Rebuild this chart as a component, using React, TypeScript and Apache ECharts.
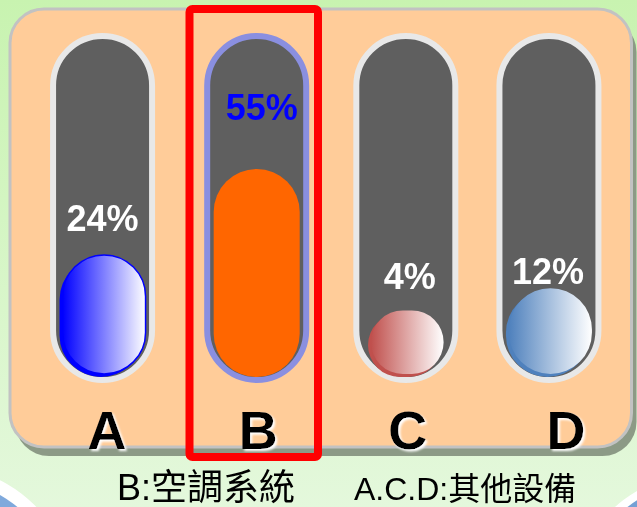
import React, { useEffect, useRef } from "react";
import * as echarts from "echarts";

// Equipment groups and their share of total consumption (%)
const CATEGORIES = ["A", "B", "C", "D"];
const SHARES = [24, 55, 4, 12];
const SHARE_LABELS = ["24%", "55%", "4%", "12%"];
const NOTE_LEFT = "B:空調系統";
const NOTE_RIGHT = "A.C.D:其他設備";

// Highlighted group (air conditioning)
const HIGHLIGHT = 1;

// Value axis range: the negative floor leaves room for the rounded base of each fill
const Y_MIN = -20;
const Y_MAX = 100;

const FONT = "'Liberation Sans', Arial, 'Noto Sans CJK TC', sans-serif";

// Small layout nudges per tube, label lift above each fill, label x shift
const NUDGE = [-2, 3, 3, -3];
const LABEL_LIFT = [36, 61, 34, 17];
const LABEL_DX = [0, 5, 4, -1];
const LETTER_PAD = [5, 9, 10, 28];

type FillStyle = { base: string; grad: boolean; stroke?: string; text: string };
const FILL_STYLES: FillStyle[] = [
  { base: "#0000ff", grad: true, stroke: "#0000ff", text: "#ffffff" },
  { base: "#ff6600", grad: false, text: "#0000ff" },
  { base: "#c0504d", grad: true, text: "#ffffff" },
  { base: "#4f81bd", grad: true, text: "#ffffff" },
];

const seriesData = SHARES.map((v, i) => [i, v]);

const tubeItem = (_params: any, api: any) => {
  const i = api.value(0);
  const top = api.coord([i, Y_MAX]);
  const bottom = api.coord([i, Y_MIN]);
  const cx = top[0] + NUDGE[i];
  const y = top[1] - 8;
  const h = bottom[1] + 3 - y;
  return {
    type: "rect",
    shape: { x: cx - 49.5, y, width: 99, height: h, r: 49.5 },
    style: {
      fill: "#5f5f5f",
      stroke: i === HIGHLIGHT ? "#8a8fe0" : "#e8e8e8",
      lineWidth: 6,
    },
  };
};

const fillItem = (_params: any, api: any) => {
  const i = api.value(0);
  const v = api.value(1);
  const top = api.coord([i, v]);
  const bottom = api.coord([i, Y_MIN]);
  const cx = top[0] + NUDGE[i];
  const h = bottom[1] - top[1];
  const w = Math.min(86, h + 9);
  const st = FILL_STYLES[i];
  const children: any[] = [];
  if (st.grad) {
    const iw = w - 3;
    const ih = h - 3;
    children.push({
      type: "rect",
      shape: { x: cx - w / 2, y: top[1] + 3, width: iw, height: ih, r: iw / 2 },
      style: { fill: st.base },
    });
    children.push({
      type: "rect",
      shape: { x: cx - w / 2 + 3, y: top[1], width: iw, height: ih, r: iw / 2 },
      style: {
        fill: new echarts.graphic.LinearGradient(0, 0, 1, 0, [
          { offset: 0, color: st.base },
          { offset: 1, color: "#ffffff" },
        ]),
        stroke: st.stroke || null,
        lineWidth: st.stroke ? 1.5 : 0,
      },
    });
  } else {
    children.push({
      type: "rect",
      shape: { x: cx - w / 2, y: top[1], width: w, height: h, r: w / 2 },
      style: { fill: st.base },
    });
  }
  children.push({
    type: "text",
    x: cx + LABEL_DX[i],
    y: top[1] - LABEL_LIFT[i],
    style: {
      text: SHARE_LABELS[i],
      fill: st.text,
      fontSize: 36,
      fontWeight: "bold",
      fontFamily: FONT,
      align: "center",
      verticalAlign: "middle",
    },
  });
  return { type: "group", children };
};

const letterRich: Record<string, any> = {};
CATEGORIES.forEach((_, i) => {
  letterRich["l" + i] = {
    fontSize: 54,
    fontWeight: "bold",
    fontFamily: FONT,
    color: "#000000",
    lineHeight: 56,
    padding: [0, 0, 0, LETTER_PAD[i]],
    textShadowColor: "#ffffff",
    textShadowOffsetX: 2,
    textShadowOffsetY: 2,
    textShadowBlur: 2,
  };
});

const panel = { x: 10, y: 9, width: 621.5, height: 438, r: 34 };

const option: any = {
  animation: false,
  grid: { left: 30, right: 10.5, top: 44, bottom: 130 },
  xAxis: {
    type: "category",
    data: CATEGORIES,
    z: 5,
    axisLine: { show: false },
    axisTick: { show: false },
    splitLine: { show: false },
    axisLabel: {
      interval: 0,
      margin: 25,
      formatter: (v: string, i: number) => `{l${i}|${v}}`,
      rich: letterRich,
    },
  },
  yAxis: { type: "value", min: Y_MIN, max: Y_MAX, show: false },
  graphic: {
    elements: [
      {
        type: "rect",
        z: -10,
        silent: true,
        shape: { x: 0, y: 0, width: 637, height: 507 },
        style: {
          fill: new echarts.graphic.LinearGradient(0, 0, 0, 1, [
            { offset: 0, color: "#c8f3b0" },
            { offset: 1, color: "#e4f8dc" },
          ]),
        },
      },
      // swoosh in the lower corners: white band over a blue edge
      {
        type: "circle",
        z: -9,
        silent: true,
        shape: { cx: -60, cy: 600, r: 134 },
        style: { fill: "#ffffff" },
      },
      {
        type: "circle",
        z: -9,
        silent: true,
        shape: { cx: -60, cy: 600, r: 121 },
        style: { fill: "#7fa9dc" },
      },
      {
        type: "circle",
        z: -9,
        silent: true,
        shape: { cx: 700, cy: 600, r: 126 },
        style: { fill: "#ffffff" },
      },
      {
        type: "circle",
        z: -9,
        silent: true,
        shape: { cx: 700, cy: 600, r: 118 },
        style: { fill: "#75a0d4" },
      },
      {
        type: "rect",
        z: -8,
        silent: true,
        shape: { ...panel, x: panel.x + 5, y: panel.y + 9 },
        style: { fill: "#8c9a86" },
      },
      {
        type: "rect",
        z: -7,
        silent: true,
        shape: panel,
        style: { fill: "#ffcc99", stroke: "#c2c2c2", lineWidth: 3 },
      },
      {
        type: "rect",
        z: 100,
        silent: true,
        shape: { x: 189.5, y: 9, width: 128.5, height: 448, r: 3 },
        style: { fill: "none", stroke: "#ff0000", lineWidth: 8 },
      },
      {
        type: "text",
        z: 100,
        x: 117,
        y: 487,
        style: {
          text: NOTE_LEFT,
          fill: "#000000",
          fontSize: 36,
          lineHeight: 36,
          fontFamily: FONT,
          align: "left",
          verticalAlign: "middle",
        },
      },
      {
        type: "text",
        z: 100,
        x: 354,
        y: 489,
        style: {
          text: NOTE_RIGHT,
          fill: "#000000",
          fontSize: 32,
          lineHeight: 32,
          fontFamily: FONT,
          align: "left",
          verticalAlign: "middle",
        },
      },
    ],
  },
  series: [
    { type: "custom", z: 2, silent: true, renderItem: tubeItem, data: seriesData },
    { type: "custom", z: 3, silent: true, renderItem: fillItem, data: seriesData },
  ],
};

export default function App() {
  const ref = useRef<HTMLDivElement>(null);
  useEffect(() => {
    const chart = echarts.init(ref.current!, null, { renderer: "svg" });
    chart.setOption(option);
    return () => chart.dispose();
  }, []);
  return (
    <div
      ref={ref}
      style={{ position: "fixed", left: 0, top: 0, width: 637, height: 507 }}
    />
  );
}
